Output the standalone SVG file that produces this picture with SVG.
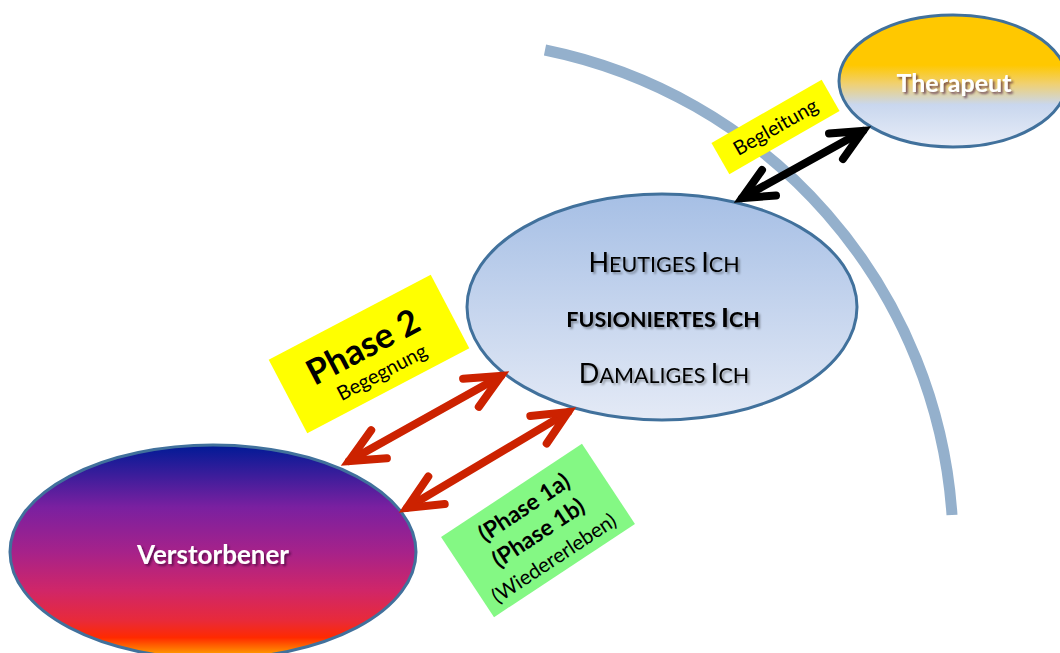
<svg xmlns="http://www.w3.org/2000/svg" width="1060" height="653" viewBox="0 0 1060 653">
  <defs>
    <linearGradient id="gTher" x1="0" y1="0" x2="0" y2="1">
      <stop offset="0" stop-color="#FFC800"/>
      <stop offset="0.38" stop-color="#FFC800"/>
      <stop offset="0.52" stop-color="#F0D070"/>
      <stop offset="0.68" stop-color="#C9D7EE"/>
      <stop offset="1" stop-color="#E8EDF8"/>
    </linearGradient>
    <linearGradient id="gIch" x1="0" y1="0" x2="0" y2="1">
      <stop offset="0" stop-color="#A6BFE5"/>
      <stop offset="1" stop-color="#E4EAF6"/>
    </linearGradient>
    <linearGradient id="gVer" x1="0" y1="0" x2="0" y2="1">
      <stop offset="0" stop-color="#001A96"/>
      <stop offset="0.29" stop-color="#7A20A0"/>
      <stop offset="0.5" stop-color="#A6228A"/>
      <stop offset="0.68" stop-color="#D02668"/>
      <stop offset="0.82" stop-color="#E82A3A"/>
      <stop offset="0.9" stop-color="#FF2A00"/>
      <stop offset="0.96" stop-color="#FF8000"/>
      <stop offset="1" stop-color="#FFC000"/>
    </linearGradient>
    <filter id="shDark" x="-20%" y="-40%" width="140%" height="180%">
      <feDropShadow dx="2" dy="2" stdDeviation="1.2" flood-color="#000" flood-opacity="0.35"/>
    </filter>
    <filter id="shWhite" x="-20%" y="-40%" width="140%" height="180%">
      <feDropShadow dx="2" dy="2" stdDeviation="1.2" flood-color="#300030" flood-opacity="0.6"/>
    </filter>
  </defs>
  <style>
    .ell { stroke: #41719C; stroke-width: 3; }
    .t { font-family: Lato, "Liberation Sans", sans-serif; fill: #000; }
    .b { font-weight: bold; }
    .w { fill: #FFFFFF; font-weight: bold; }
    .arc { fill: none; stroke: #94B0CC; stroke-width: 11; }
    .ab { fill: none; stroke: #000; stroke-width: 8; stroke-linecap: round; stroke-linejoin: miter; }
    .ar { fill: none; stroke: #CC2200; stroke-width: 8; stroke-linecap: round; stroke-linejoin: miter; }
  </style>
  <rect width="1060" height="653" fill="#FFFFFF"/>

  <path class="arc" d="M 545 50 A 510 510 0 0 1 952 515"/>

  <g id="therapeut">
    <ellipse class="ell" cx="953" cy="81" rx="114" ry="66" fill="url(#gTher)"/>
    <text class="t w" x="954" y="92" font-size="25" text-anchor="middle" filter="url(#shWhite)">Therapeut</text>
  </g>

  <g id="ich">
    <ellipse class="ell" cx="662" cy="307" rx="195" ry="113" fill="url(#gIch)"/>
    <g filter="url(#shDark)">
      <text class="t" x="664" y="272" text-anchor="middle"><tspan font-size="27">H</tspan><tspan font-size="21.5">EUTIGES </tspan><tspan font-size="27">I</tspan><tspan font-size="21.5">CH</tspan></text>
      <text class="t b" x="663" y="327" text-anchor="middle"><tspan font-size="21.5">FUSIONIERTES </tspan><tspan font-size="27">I</tspan><tspan font-size="21.5">CH</tspan></text>
      <text class="t" x="664" y="383" text-anchor="middle"><tspan font-size="27">D</tspan><tspan font-size="21.5">AMALIGES </tspan><tspan font-size="27">I</tspan><tspan font-size="21.5">CH</tspan></text>
    </g>
  </g>

  <g id="verstorbener">
    <ellipse class="ell" cx="213" cy="552" rx="203" ry="107" fill="url(#gVer)"/>
    <text class="t w" x="213" y="564" font-size="26" text-anchor="middle" filter="url(#shWhite)">Verstorbener</text>
  </g>

  <g id="label-begleitung" transform="translate(775.5,127) rotate(-29.8)">
    <rect x="-63.5" y="-18" width="127" height="36" fill="#FFFF00"/>
    <text class="t" x="0" y="7" font-size="20" text-anchor="middle">Begleitung</text>
  </g>

  <g id="label-phase2" transform="translate(369,354) rotate(-27.7)">
    <rect x="-91.5" y="-41.5" width="183" height="83" fill="#FFFF00"/>
    <text class="t b" x="-2" y="3" font-size="35" text-anchor="middle">Phase 2</text>
    <text class="t" x="3" y="29" font-size="20" text-anchor="middle">Begegnung</text>
  </g>

  <g id="label-phase1" transform="translate(538,530.5) rotate(-33.5)">
    <rect x="-84.5" y="-48" width="169" height="96" fill="#84F884"/>
    <text class="t b" x="1" y="-19" font-size="23" text-anchor="middle">(Phase 1a)</text>
    <text class="t b" x="-1" y="10" font-size="23" text-anchor="middle">(Phase 1b)</text>
    <text class="t" x="-2" y="39" font-size="20.5" text-anchor="middle">(Wiedererleben)</text>
  </g>

  <g id="connectors">
    <g id="arrow-begleitung">
      <line class="ab" x1="742" y1="198.1" x2="863" y2="130.9"/>
      <polyline class="ab" points="776,195.5 742,198.1 762,170"/>
      <polyline class="ab" points="829,133.5 863,130.9 843,159"/>
    </g>
    <g id="arrow-phase2">
      <line class="ar" x1="349" y1="461.1" x2="501" y2="375.9"/>
      <polyline class="ar" points="386.9,458.3 349,461.1 371.2,430.2"/>
      <polyline class="ar" points="463.1,378.8 501,375.9 478.8,406.8"/>
    </g>
    <g id="arrow-phase1">
      <line class="ar" x1="406.9" y1="507.9" x2="568.1" y2="412.1"/>
      <polyline class="ar" points="444.7,504.1 406.9,507.9 428.3,476.5"/>
      <polyline class="ar" points="530.3,415.9 568.1,412.1 546.7,443.5"/>
    </g>
  </g>
</svg>
